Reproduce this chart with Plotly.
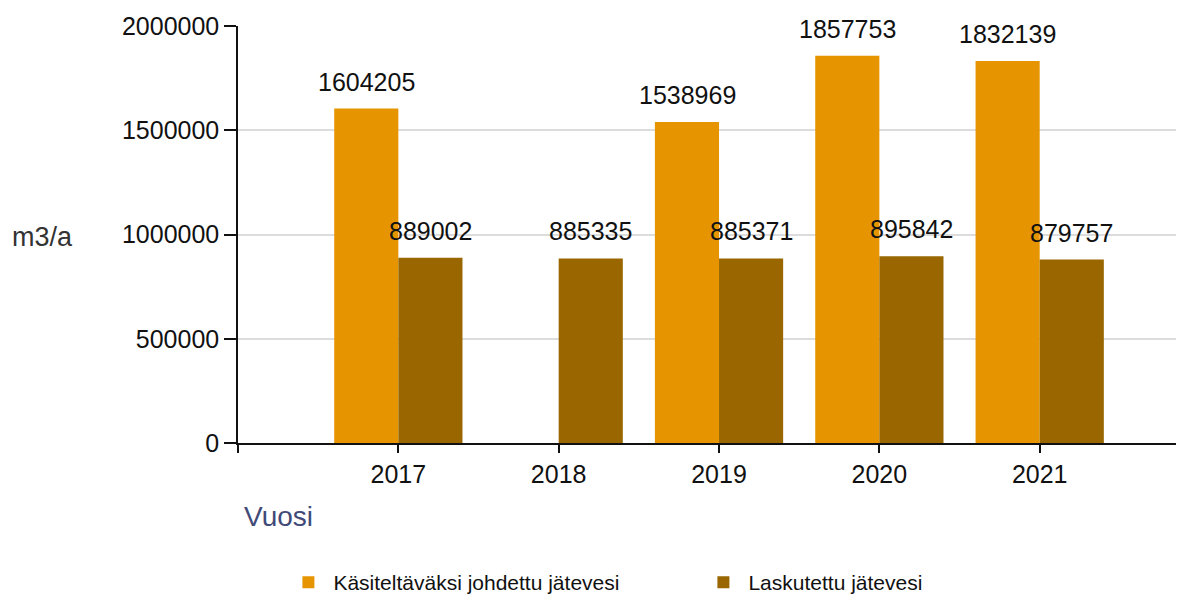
import plotly.graph_objects as go

years = [2017, 2018, 2019, 2020, 2021]
kasiteltava = [1604205, None, 1538969, 1857753, 1832139]
laskutettu = [889002, 885335, 885371, 895842, 879757]
series_names = ["Käsiteltäväksi johdettu jätevesi", "Laskutettu jätevesi"]
colors = ["#E69500", "#996600"]
y_ticks = [0, 500000, 1000000, 1500000, 2000000]

FONT = "Liberation Sans, Arial, sans-serif"
FS = 25

fig = go.Figure()
fig.add_trace(go.Bar(x=years, y=kasiteltava, name=series_names[0],
                     marker=dict(color=colors[0], line=dict(width=0))))
fig.add_trace(go.Bar(x=years, y=laskutettu, name=series_names[1],
                     marker=dict(color=colors[1], line=dict(width=0))))

annotations = []
for vals, shift in ((kasiteltava, -32), (laskutettu, 32)):
    for yr, v in zip(years, vals):
        if v is None:
            continue
        annotations.append(dict(x=yr, y=v, xref="x", yref="y", text=str(v),
                                showarrow=False, xshift=shift, yshift=27,
                                yanchor="middle",
                                font=dict(family=FONT, size=FS, color="#111")))

annotations.append(dict(x=0.004, y=-0.177, xref="paper", yref="paper", text="Vuosi",
                        showarrow=False, xanchor="left", yanchor="middle",
                        font=dict(family=FONT, size=28, color="#3F4A78")))
annotations.append(dict(x=-0.241, y=0.495, xref="paper", yref="paper", text="m3/a",
                        showarrow=False, xanchor="left", yanchor="middle",
                        font=dict(family=FONT, size=27, color="#333")))

# page body has an 8px margin; size the figure so the plot lands where the reference has it
fig.update_layout(
    width=1176, height=595,
    margin=dict(l=230, r=0, t=18, b=159),
    paper_bgcolor="white", plot_bgcolor="white",
    barmode="group", bargap=0.2, bargroupgap=0,
    font=dict(family=FONT, size=FS, color="#111"),
    annotations=annotations,
    legend=dict(orientation="h", x=0.048, xanchor="left", y=-0.333, yanchor="middle",
                font=dict(family=FONT, size=21, color="#111"), itemwidth=40,
                entrywidth=360, entrywidthmode="pixels",
                traceorder="normal"),
    xaxis=dict(range=[2016, 2021.9], tickmode="array",
               tickvals=[2016] + years, ticktext=[""] + [str(y) for y in years],
               showline=True, linecolor="#111", linewidth=1.5,
               ticks="outside", ticklen=8, tickwidth=1.5, tickcolor="#111",
               showgrid=False, zeroline=False,
               tickfont=dict(family=FONT, size=FS, color="#111")),
    yaxis=dict(range=[0, 2000000], tickmode="array", tickvals=y_ticks,
               ticktext=[str(t) for t in y_ticks],
               showline=True, linecolor="#111", linewidth=1.5,
               ticks="outside", ticklen=12, tickwidth=1.5, tickcolor="#111",
               showgrid=True, gridcolor="#DCDCDC", gridwidth=2, zeroline=False,
               tickfont=dict(family=FONT, size=FS, color="#111")),
)

fig.write_html("out.html")
